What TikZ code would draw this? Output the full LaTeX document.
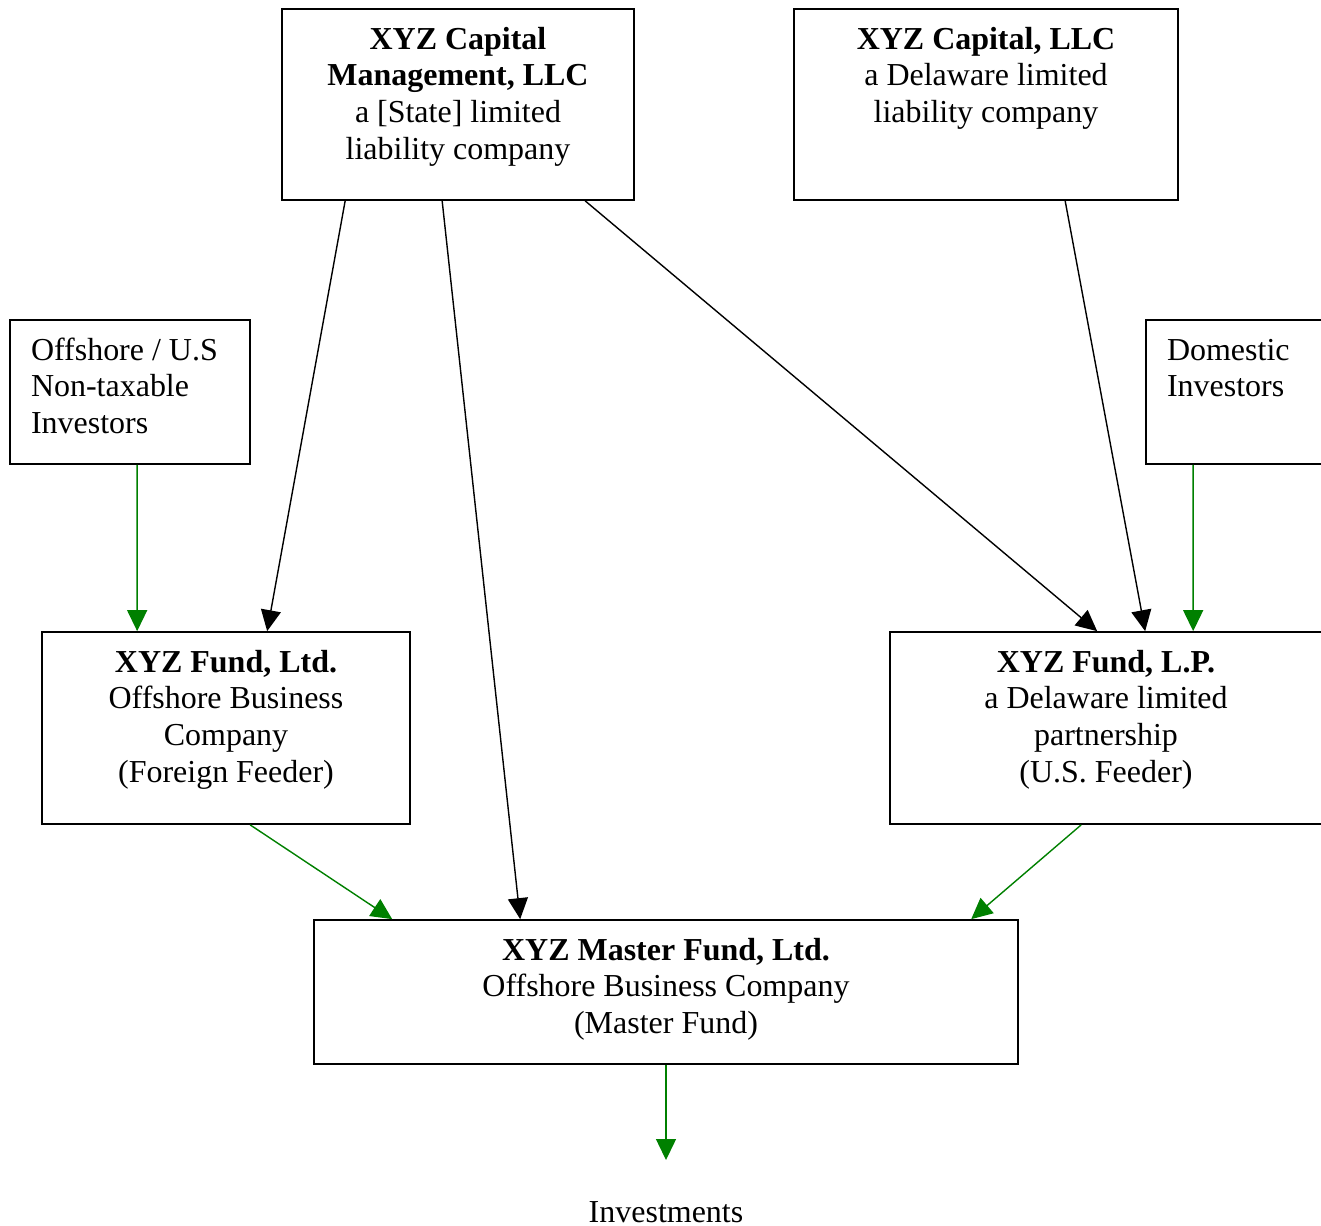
\documentclass[tikz,border=0pt]{standalone}
\usepackage{fontspec}
\setmainfont{Liberation Serif}
\usetikzlibrary{arrows.meta, calc}
\definecolor{feedgreen}{RGB}{0,128,0}
\tikzstyle{entity} = [rectangle, draw=black, line width=1pt, inner sep=0pt]
\tikzstyle{arrow} = [line width=0.8pt, -{Triangle[length=0.42cm,width=0.4cm]}]
\tikzstyle{flow} = [arrow, draw=feedgreen]
\newcommand{\boxtext}[4]{\parbox[c][#2][t]{#1}{#3\rule{0pt}{0.8cm}#4}}

\begin{document}
\begin{tikzpicture}[x=0.02cm, y=-0.02cm, font=\fontsize{18.2}{21}\selectfont]
    \useasboundingbox (0,0) rectangle (1321,1225);
    \clip (0,0) rectangle (1321,1225);

    \node (capmgmt) [entity] at (458,104.5) {\boxtext{7.04cm}{3.82cm}{\centering}{\textbf{XYZ Capital}\\\textbf{Management, LLC}\\a [State] limited\\liability company}};
    \node (capllc) [entity] at (986,104.5) {\boxtext{7.68cm}{3.82cm}{\centering}{\textbf{XYZ Capital, LLC}\\a Delaware limited\\liability company}};
    \node (offshore) [entity] at (130,392) {\boxtext{4.8cm}{2.88cm}{\raggedright\leftskip=0.42cm}{Offshore / U.S\\Non-taxable\\Investors}};
    \node (domestic) [entity] at (1238,392) {\boxtext{3.68cm}{2.88cm}{\raggedright\leftskip=0.42cm}{Domestic\\Investors}};
    \node (fundltd) [entity] at (226,728) {\boxtext{7.36cm}{3.84cm}{\centering}{\textbf{XYZ Fund, Ltd.}\\Offshore Business\\Company\\(Foreign Feeder)}};
    \node (fundlp) [entity] at (1106,728) {\boxtext{8.64cm}{3.84cm}{\centering}{\textbf{XYZ Fund, L.P.}\\a Delaware limited\\partnership\\(U.S. Feeder)}};
    \node (master) [entity] at (666,992) {\boxtext{14.08cm}{2.88cm}{\centering}{\textbf{XYZ Master Fund, Ltd.}\\Offshore Business Company\\(Master Fund)}};
    \node (invest) at (666,1212) {Investments};
    \coordinate (investtip) at (666,1160);

    \draw [arrow] ($(capmgmt.south west)+(64,0)$) -- ($(fundltd.north west)+(226,0)$);
    \draw [arrow] ($(capmgmt.south west)+(161,0)$) -- ($(master.north west)+(207,0)$);
    \draw [arrow] ($(capmgmt.south west)+(304,0)$) -- ($(fundlp.north west)+(208,0)$);
    \draw [arrow] ($(capllc.south west)+(272,0)$) -- ($(fundlp.north west)+(256,0)$);

    \draw [flow] ($(offshore.south west)+(128,0)$) -- ($(fundltd.north west)+(96,0)$);
    \draw [flow] ($(domestic.south west)+(48,0)$) -- ($(fundlp.north west)+(304,0)$);
    \draw [flow] ($(fundltd.south west)+(209,0)$) -- ($(master.north west)+(79,0)$);
    \draw [flow] ($(fundlp.south west)+(192,0)$) -- ($(master.north west)+(658,0)$);
    \draw [flow] (master.south) -- (investtip);

\end{tikzpicture}
\end{document}
